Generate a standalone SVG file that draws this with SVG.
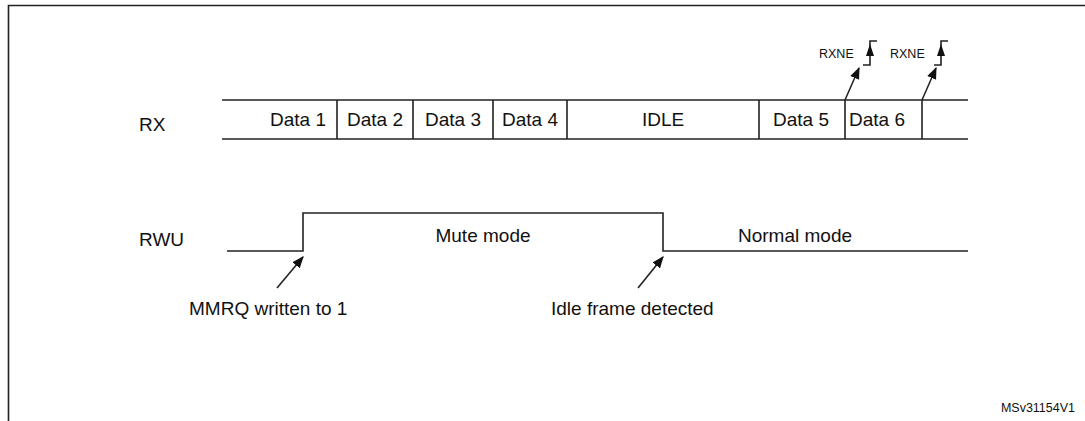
<svg xmlns="http://www.w3.org/2000/svg" width="1085" height="421" viewBox="0 0 1085 421">
<style>
text{font-family:"Liberation Sans",Arial,sans-serif;font-size:19px;fill:#111}
.l{stroke:#222;stroke-width:1.6;fill:none}
.s{font-size:12.5px}
</style>
<defs>
<marker id="a" viewBox="0 0 10 10" refX="9" refY="5" markerWidth="12" markerHeight="12" markerUnits="userSpaceOnUse" orient="auto"><path d="M0,1 L10,5 L0,9 z" fill="#111"/></marker>
</defs>
<rect width="1085" height="421" fill="#fff"/>
<path class="l" d="M8.5,421 V5.5 H1085" stroke-width="2"/>
<g id="rx">
<text x="139" y="131">RX</text>
<path class="l" d="M222,100 H968 M222,139 H968 M337,100 V139 M413,100 V139 M493,100 V139 M567,100 V139 M759,100 V139 M845,100 V139 M922,100 V139"/>
<text x="326" y="126" text-anchor="end">Data 1</text>
<text x="375" y="126" text-anchor="middle">Data 2</text>
<text x="453" y="126" text-anchor="middle">Data 3</text>
<text x="530" y="126" text-anchor="middle">Data 4</text>
<text x="663" y="126" text-anchor="middle">IDLE</text>
<text x="801" y="126" text-anchor="middle">Data 5</text>
<text x="849" y="126">Data 6</text>
</g>
<g id="rxne1">
<text class="s" x="819" y="58">RXNE</text>
<path class="l" d="M863,65 H870 V41 H877" stroke-width="1.3"/>
<path d="M870,44 L866,56 L874,56 z" fill="#111"/>
</g>
<g id="rxne2">
<text class="s" x="890" y="58">RXNE</text>
<path class="l" d="M934,65 H941 V41 H948" stroke-width="1.3"/>
<path d="M941,44 L937,56 L945,56 z" fill="#111"/>
</g>
<g id="rwu">
<text x="139" y="246">RWU</text>
<path class="l" d="M227,251 H303 V213 H663 V251 H968"/>
<text x="483" y="242" text-anchor="middle">Mute mode</text>
<text x="738" y="242">Normal mode</text>
</g>
<g id="labels">
<text x="189" y="315">MMRQ written to 1</text>
<text x="551" y="315">Idle frame detected</text>
<text class="s" x="1075" y="412" text-anchor="end">MSv31154V1</text>
</g>
<g id="connectors" class="l" stroke-width="1.3">
<line x1="277" y1="288" x2="303" y2="257" marker-end="url(#a)"/>
<line x1="638" y1="288" x2="663" y2="257" marker-end="url(#a)"/>
<line x1="845" y1="100" x2="859" y2="68" marker-end="url(#a)"/>
<line x1="922" y1="100" x2="936" y2="68" marker-end="url(#a)"/>
</g>
</svg>
